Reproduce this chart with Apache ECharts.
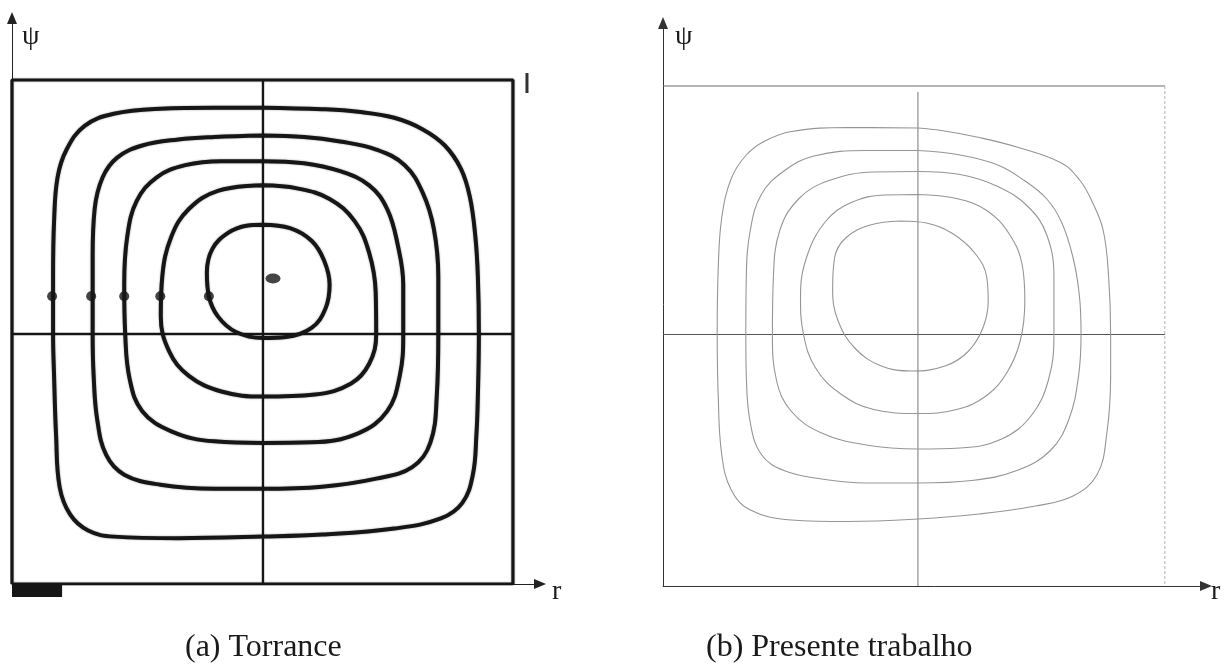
<!DOCTYPE html>
<html>
<head>
<meta charset="utf-8">
<script src="https://cdn.jsdelivr.net/npm/echarts@6/dist/echarts.min.js"></script>
<style>
  html, body { margin: 0; padding: 0; background: #ffffff; }
  #chart { width: 1232px; height: 670px; }
</style>
</head>
<body>
<div id="chart"></div>
<script>
// Streamlines psi(r) in the square cavity, both panels in normalised units [0,1].

// (a) Torrance — closed streamlines, outermost first, traced as [r, psi]
const torrance1 = [[0.501,0.945],[0.619,0.942],[0.691,0.937],[0.763,0.925],[0.820,0.902],[0.864,0.870],[0.896,0.824],[0.914,0.768],[0.925,0.689],[0.930,0.610],[0.932,0.496],[0.930,0.374],[0.927,0.295],[0.920,0.217],[0.899,0.161],[0.856,0.130],[0.763,0.110],[0.619,0.098],[0.501,0.094],[0.332,0.091],[0.203,0.094],[0.152,0.106],[0.116,0.138],[0.095,0.193],[0.088,0.295],[0.084,0.413],[0.082,0.496],[0.082,0.610],[0.084,0.720],[0.091,0.807],[0.109,0.862],[0.145,0.909],[0.203,0.933],[0.296,0.943],[0.404,0.945]];
const torrance2 = [[0.501,0.890],[0.583,0.887],[0.655,0.878],[0.727,0.862],[0.784,0.831],[0.820,0.776],[0.842,0.705],[0.851,0.610],[0.851,0.496],[0.848,0.374],[0.835,0.280],[0.799,0.232],[0.727,0.209],[0.619,0.193],[0.501,0.189],[0.404,0.189],[0.296,0.197],[0.224,0.217],[0.188,0.256],[0.170,0.327],[0.163,0.413],[0.161,0.496],[0.161,0.650],[0.165,0.744],[0.181,0.807],[0.210,0.846],[0.260,0.870],[0.332,0.882],[0.404,0.887]];
const torrance3 = [[0.501,0.839],[0.583,0.835],[0.655,0.819],[0.713,0.791],[0.749,0.744],[0.770,0.673],[0.781,0.594],[0.781,0.496],[0.774,0.413],[0.749,0.343],[0.691,0.299],[0.598,0.281],[0.501,0.280],[0.404,0.283],[0.318,0.303],[0.260,0.343],[0.235,0.406],[0.226,0.496],[0.224,0.594],[0.230,0.689],[0.249,0.760],[0.289,0.807],[0.346,0.831],[0.418,0.839]];
const torrance4 = [[0.501,0.791],[0.569,0.785],[0.634,0.764],[0.684,0.720],[0.713,0.657],[0.726,0.579],[0.727,0.496],[0.713,0.437],[0.677,0.398],[0.605,0.376],[0.501,0.372],[0.418,0.382],[0.353,0.413],[0.314,0.461],[0.297,0.531],[0.300,0.610],[0.318,0.689],[0.353,0.744],[0.411,0.780]];
const torrance5 = [[0.501,0.713],[0.555,0.706],[0.598,0.681],[0.623,0.642],[0.634,0.594],[0.626,0.547],[0.598,0.508],[0.547,0.490],[0.501,0.488],[0.447,0.500],[0.411,0.531],[0.393,0.571],[0.389,0.618],[0.400,0.665],[0.432,0.697],[0.468,0.711]];
// markers where each streamline crosses psi = 0.571, plus the vortex centre
const torranceMarkR = [0.080, 0.158, 0.224, 0.296, 0.393];
const torranceMarkPsi = 0.571;
const torranceCentre = [0.521, 0.606];
const torranceCross = { r: 0.501, psi: 0.496 };

// (b) Presente trabalho — closed streamlines, outermost first
const presente1 = [[0.508,0.916],[0.555,0.911],[0.630,0.897],[0.705,0.878],[0.794,0.846],[0.831,0.811],[0.854,0.771],[0.877,0.712],[0.888,0.618],[0.892,0.503],[0.892,0.420],[0.884,0.302],[0.865,0.223],[0.817,0.180],[0.742,0.160],[0.630,0.144],[0.508,0.134],[0.368,0.129],[0.256,0.132],[0.174,0.152],[0.136,0.192],[0.117,0.263],[0.110,0.381],[0.108,0.503],[0.110,0.633],[0.117,0.736],[0.136,0.815],[0.166,0.862],[0.203,0.890],[0.256,0.909],[0.368,0.917]];
const presente2 = [[0.508,0.871],[0.592,0.862],[0.667,0.842],[0.720,0.811],[0.764,0.775],[0.794,0.728],[0.817,0.657],[0.830,0.578],[0.833,0.503],[0.828,0.420],[0.809,0.334],[0.772,0.271],[0.705,0.231],[0.615,0.211],[0.508,0.206],[0.405,0.206],[0.316,0.214],[0.241,0.231],[0.196,0.263],[0.174,0.326],[0.166,0.420],[0.165,0.503],[0.166,0.618],[0.174,0.712],[0.196,0.783],[0.241,0.830],[0.301,0.860],[0.405,0.871]];
const presente3 = [[0.508,0.829],[0.592,0.823],[0.667,0.799],[0.727,0.759],[0.764,0.704],[0.779,0.618],[0.779,0.503],[0.768,0.412],[0.734,0.341],[0.675,0.294],[0.592,0.276],[0.508,0.274],[0.405,0.282],[0.316,0.306],[0.256,0.349],[0.226,0.412],[0.218,0.503],[0.220,0.618],[0.233,0.712],[0.271,0.775],[0.331,0.811],[0.420,0.828]];
const presente4 = [[0.508,0.783],[0.585,0.775],[0.645,0.751],[0.690,0.704],[0.716,0.641],[0.721,0.570],[0.712,0.491],[0.686,0.428],[0.645,0.381],[0.585,0.353],[0.508,0.345],[0.420,0.353],[0.353,0.385],[0.304,0.436],[0.280,0.503],[0.274,0.578],[0.286,0.657],[0.323,0.728],[0.375,0.767],[0.443,0.782]];
const presente5 = [[0.473,0.730],[0.525,0.726],[0.577,0.705],[0.622,0.665],[0.645,0.618],[0.648,0.570],[0.637,0.515],[0.607,0.468],[0.562,0.440],[0.495,0.430],[0.435,0.440],[0.383,0.475],[0.349,0.530],[0.338,0.593],[0.342,0.657],[0.364,0.696],[0.413,0.722]];
const presenteCross = { r: 0.508, psi: 0.503 };

// axis labels and captions
const axisNameY = 'ψ';
const axisNameX = 'r';
const captions = ['(a) Torrance', '(b) Presente trabalho'];

const serif = '"Liberation Serif", "DejaVu Serif", serif';
const INK = '#161616';
const GREY = '#959595';

function closed(pts) { return pts.concat([pts[0]]); }

function lineSeries(idx, data, style, extra) {
  return Object.assign({
    type: 'line', xAxisIndex: idx, yAxisIndex: idx, data: data,
    symbol: 'none', silent: true, animation: false, lineStyle: style
  }, extra || {});
}

function axisPair(idx, xMax, yMax, color) {
  const common = {
    gridIndex: idx, type: 'value', min: 0,
    axisTick: { show: false }, axisLabel: { show: false }, splitLine: { show: false },
    axisLine: { show: true, onZero: false, symbol: ['none', 'triangle'], symbolSize: [10, 12],
      lineStyle: { color: color, width: 1 } }
  };
  return [Object.assign({}, common, { max: xMax }), Object.assign({}, common, { max: yMax })];
}

const axesA = axisPair(0, 1.054, 1.123, '#222');
const axesB = axisPair(1, 1.082, 1.126, '#333');

const series = [];

// (a) frame, cross and streamlines — heavy strokes
const thickA = { color: INK, width: 3.2, shadowBlur: 2, shadowColor: 'rgba(0,0,0,0.35)' };
series.push(lineSeries(0, [[0, 0], [0, 1], [1, 1], [1, 0], [0, 0]], thickA));
series.push(lineSeries(0, [[torranceCross.r, 0], [torranceCross.r, 1]], { color: INK, width: 2.4 }));
series.push(lineSeries(0, [[0, torranceCross.psi], [1, torranceCross.psi]], { color: INK, width: 2.4 }));
series.push(lineSeries(0, [[1.028, 0.974], [1.028, 1.014]], { color: '#333', width: 3 }));
series.push(lineSeries(0, [[0, -0.014], [0.1, -0.014]], { color: INK, width: 12 }, { clip: false }));
[torrance1, torrance2, torrance3, torrance4, torrance5].forEach(function (c) {
  series.push(lineSeries(0, closed(c),
    { color: INK, width: 4, shadowBlur: 2, shadowColor: 'rgba(0,0,0,0.4)' }, { smooth: 0.4 }));
});
series.push({
  type: 'scatter', xAxisIndex: 0, yAxisIndex: 0, silent: true, animation: false,
  symbolSize: 10, itemStyle: { color: INK },
  data: torranceMarkR.map(function (r) { return [r, torranceMarkPsi]; })
});
series.push({
  type: 'scatter', xAxisIndex: 0, yAxisIndex: 0, silent: true, animation: false,
  symbol: 'circle', symbolSize: [15, 10], itemStyle: { color: INK },
  data: [torranceCentre]
});

// (b) frame, cross and streamlines — fine grey strokes
series.push(lineSeries(1, [[0, 1], [1, 1]], { color: '#6a6a6a', width: 1 }));
series.push(lineSeries(1, [[1, 1], [1, 0]], { color: '#b0b0b0', width: 1, type: [3, 2] }));
series.push(lineSeries(1, [[presenteCross.r, 0.988], [presenteCross.r, 0]], { color: '#777', width: 1 }));
series.push(lineSeries(1, [[0, presenteCross.psi], [1, presenteCross.psi]], { color: '#555', width: 1 }));
[presente1, presente2, presente3, presente4, presente5].forEach(function (c) {
  series.push(lineSeries(1, closed(c), { color: GREY, width: 1.1 }, { smooth: 0.4 }));
});

const textStyle = function (txt, size) {
  return { text: txt, font: size + 'px ' + serif, fill: '#1a1a1a' };
};

const chart = echarts.init(document.getElementById('chart'), null, { renderer: 'canvas' });
chart.setOption({
  backgroundColor: '#ffffff',
  animation: false,
  grid: [
    { left: 12, top: 18, width: 528, height: 566 },
    { left: 663, top: 23, width: 543, height: 563 }
  ],
  xAxis: [axesA[0], axesB[0]],
  yAxis: [axesA[1], axesB[1]],
  series: series,
  graphic: [
    { type: 'text', left: 22, top: 23, style: textStyle(axisNameY, 28) },
    { type: 'text', left: 675, top: 23, style: textStyle(axisNameY, 28) },
    { type: 'text', left: 552, top: 578, style: textStyle(axisNameX, 28) },
    { type: 'text', left: 1211, top: 578, style: textStyle(axisNameX, 28) },
    { type: 'text', left: 185, top: 632, style: textStyle(captions[0], 32) },
    { type: 'text', left: 706, top: 632, style: textStyle(captions[1], 32) }
  ]
});
</script>
</body>
</html>
